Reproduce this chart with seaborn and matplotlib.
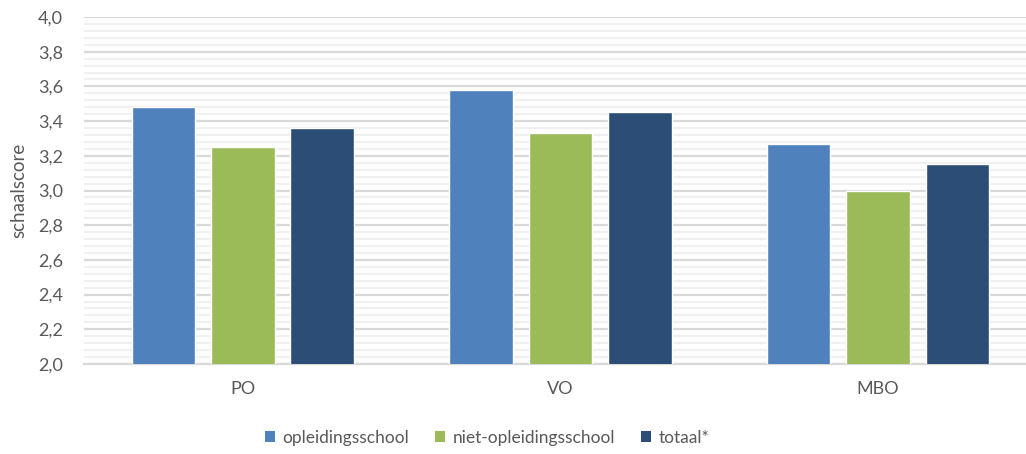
import matplotlib
matplotlib.use("Agg")
import matplotlib.pyplot as plt
from matplotlib.ticker import MultipleLocator, FuncFormatter
from matplotlib.patches import Patch
import seaborn as sns
import pandas as pd

# Schaalscores per sector en schooltype
sectoren = ["PO", "VO", "MBO"]
reeksen = ["opleidingsschool", "niet-opleidingsschool", "totaal*"]
opleidingsschool = [3.48, 3.58, 3.27]
niet_opleidingsschool = [3.25, 3.33, 3.00]
totaal = [3.36, 3.45, 3.15]
kleuren = ["#4F81BD", "#9BBB59", "#2C4D75"]

df = pd.DataFrame({
    "sector": sectoren * 3,
    "reeks": [r for r in reeksen for _ in sectoren],
    "score": opleidingsschool + niet_opleidingsschool + totaal,
})

sns.set_theme(style="white")
plt.rcParams["font.family"] = ["Lato", "DejaVu Sans"]
tekst = "#595959"

fig = plt.figure(figsize=(10.26, 4.54), dpi=100)
ax = fig.add_axes([84 / 1026, 1 - 364 / 454, 1 - 84 / 1026, (364 - 17) / 454])

sns.barplot(data=df, x="sector", y="score", hue="reeks", order=sectoren,
            hue_order=reeksen, palette=kleuren, width=0.75, gap=0.2,
            saturation=1, ax=ax, legend=False, zorder=3)

ax.set_ylim(2.0, 4.0)
ax.set_xlim(-0.5, 2.466)
ax.yaxis.set_major_locator(MultipleLocator(0.2))
ax.yaxis.set_minor_locator(MultipleLocator(0.04))
ax.yaxis.set_major_formatter(FuncFormatter(lambda v, p: f"{v:.1f}".replace(".", ",")))
ax.grid(axis="y", which="major", color="#D9D9D9", linewidth=1.6, zorder=0)
ax.grid(axis="y", which="minor", color="#F0F0F0", linewidth=1.6, zorder=0)
ax.set_axisbelow(True)

for kant in ["top", "right", "left"]:
    ax.spines[kant].set_visible(False)
ax.spines["bottom"].set_color("#D9D9D9")
ax.spines["bottom"].set_linewidth(1.6)

ax.tick_params(axis="y", which="both", length=0, pad=15, labelsize=13, labelcolor=tekst)
ax.tick_params(axis="x", length=0, pad=12, labelsize=13, labelcolor=tekst)
ax.set_xlabel("")
ax.set_ylabel("schaalscore", fontsize=13.5, color=tekst, labelpad=8)

handles = [Patch(facecolor=k, edgecolor="none") for k in kleuren]
fig.legend(handles, reeksen, loc="center", bbox_to_anchor=(487 / 1026, 1 - 438 / 454),
           ncol=3, frameon=False, fontsize=12.5, labelcolor=tekst,
           handlelength=0.6, handleheight=0.6, handletextpad=0.4, columnspacing=1.5)

fig.savefig("out.png", dpi=100)
